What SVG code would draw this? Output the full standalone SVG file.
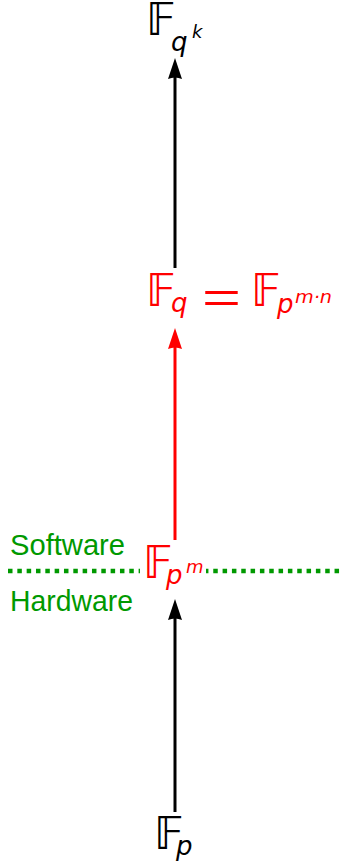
<svg xmlns="http://www.w3.org/2000/svg" width="341" height="862" viewBox="0 0 341 862">
<style>
.bb{font-family:"DejaVu Sans","Noto Sans",sans-serif;font-size:44px}
.it{font-family:"DejaVu Sans","Liberation Sans",sans-serif;font-style:italic}
.eq{font-family:"Liberation Sans","DejaVu Sans",sans-serif;font-size:42px}
.sub{font-size:26px}
.sup{font-size:18px}
.lbl{font-family:"Liberation Sans","DejaVu Sans",sans-serif;font-size:30px;fill:#009900}
.red{fill:#ff0000}
.blk{fill:#000000}
</style>
<rect width="341" height="862" fill="#ffffff"/>
<g id="separator">
<line x1="8" y1="571" x2="341" y2="571" stroke="#009900" stroke-width="4.5" stroke-dasharray="4.5 4.83"/>
</g>
<g id="connectors">
<line x1="175" y1="268" x2="175" y2="74" stroke="#000" stroke-width="3"/>
<path d="M175,58 L182,79 Q175,76 168,79 Z" fill="#000"/>
<line x1="175" y1="540" x2="175" y2="344" stroke="#ff0000" stroke-width="3"/>
<path d="M175,328 L182,349 Q175,346 168,349 Z" fill="#ff0000"/>
<line x1="175" y1="812" x2="175" y2="615" stroke="#000" stroke-width="3"/>
<path d="M175,599 L182,620 Q175,617 168,620 Z" fill="#000"/>
</g>
<g id="node-fqk" class="blk">
<text class="bb" x="146" y="35">𝔽</text>
<text class="it sub" x="171" y="51">q</text>
<text class="it sup" x="192" y="38">k</text>
</g>
<g id="node-fq" class="red">
<text class="bb" x="146" y="306">𝔽</text>
<text class="it sub" x="171" y="312">q</text>
<text class="eq" x="202" y="312" textLength="39" lengthAdjust="spacingAndGlyphs">=</text>
<text class="bb" x="251" y="306">𝔽</text>
<text class="it sub" x="277" y="313">p</text>
<text class="it sup" x="295" y="303" textLength="37" lengthAdjust="spacingAndGlyphs">m·n</text>
</g>
<g id="node-fpm" class="red">
<rect x="140" y="545" width="66" height="50" fill="#ffffff"/>
<text class="bb" x="143" y="578">𝔽</text>
<text class="it sub" x="166" y="584">p</text>
<text class="it sup" x="186" y="573">m</text>
</g>
<g id="node-fp" class="blk">
<text class="bb" x="154" y="849">𝔽</text>
<text class="it sub" x="176" y="855">p</text>
</g>
<g id="label-software">
<text class="lbl" x="10" y="555" textLength="115" lengthAdjust="spacingAndGlyphs">Software</text>
</g>
<g id="label-hardware">
<text class="lbl" x="10" y="611" textLength="123" lengthAdjust="spacingAndGlyphs">Hardware</text>
</g>
</svg>
